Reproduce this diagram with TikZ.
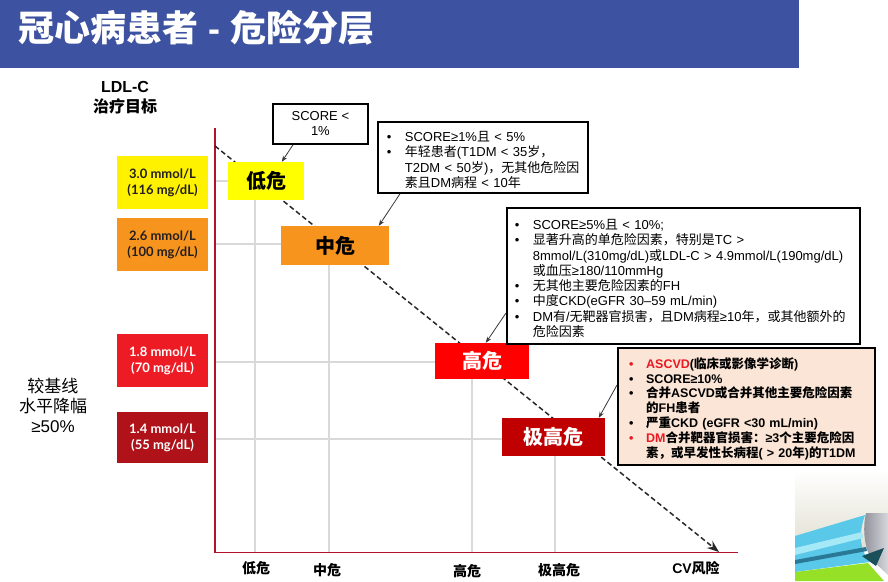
\documentclass[tikz,border=0pt]{standalone}
\usepackage{fontspec}
\setmainfont{Liberation Sans}
\newfontfamily\cjk{Noto Sans CJK SC}
\newfontfamily\gill{Lato}
\usetikzlibrary{arrows.meta,calc}

\XeTeXinterchartokenstate=1
\newXeTeXintercharclass\CJKcls
\newcount\cjkc
\cjkc="4E00 \loop\XeTeXcharclass\cjkc=\CJKcls\relax\ifnum\cjkc<"9FFF\advance\cjkc by 1\repeat
\cjkc="3000 \loop\XeTeXcharclass\cjkc=\CJKcls\relax\ifnum\cjkc<"303F\advance\cjkc by 1\repeat
\cjkc="FF00 \loop\XeTeXcharclass\cjkc=\CJKcls\relax\ifnum\cjkc<"FFEF\advance\cjkc by 1\repeat
\XeTeXinterchartoks 0 \CJKcls = {\begingroup\cjk}
\XeTeXinterchartoks 4095 \CJKcls = {\begingroup\cjk}
\XeTeXinterchartoks \CJKcls 0 = {\endgroup}
\XeTeXinterchartoks \CJKcls 4095 = {\endgroup}

\definecolor{titlebg}{RGB}{61,82,160}
\definecolor{axisred}{RGB}{178,18,42}
\definecolor{gridgray}{RGB}{217,217,217}
\definecolor{ylwA}{RGB}{255,242,0}
\definecolor{ylwB}{RGB}{255,255,0}
\definecolor{org}{RGB}{247,148,30}
\definecolor{redA}{RGB}{237,28,36}
\definecolor{redB}{RGB}{255,0,0}
\definecolor{dredA}{RGB}{175,18,25}
\definecolor{dredB}{RGB}{192,0,0}
\definecolor{peach}{RGB}{251,229,214}
\definecolor{txtdark}{RGB}{35,31,32}
\definecolor{arrgray}{RGB}{55,55,55}
\definecolor{dashgray}{RGB}{40,40,40}
\definecolor{hlred}{RGB}{235,25,35}
\definecolor{decoBeige}{RGB}{226,224,210}
\definecolor{decoCyan}{RGB}{90,200,232}
\definecolor{decoLight}{RGB}{165,232,246}
\definecolor{decoBlue}{RGB}{40,120,150}
\definecolor{decoGrayA}{RGB}{140,140,150}
\definecolor{decoGrayB}{RGB}{215,215,222}
\definecolor{decoDark}{RGB}{25,80,90}
\definecolor{decoGreen}{RGB}{150,225,40}

\newlength\itmw
\newcommand\itm[1][black]{\par\noindent\hangindent=\itmw\hangafter=1\makebox[\itmw][l]{\textcolor{#1}{\textbullet}}}

\begin{document}
\begin{tikzpicture}[x=1pt,y=-1pt,
  lbox/.style={rectangle, inner sep=0pt, minimum width=91pt, align=center,
    font=\gill\bfseries\fontsize{13}{16}\selectfont},
  rbox/.style={rectangle, inner sep=0pt, align=center,
    font=\bfseries\fontsize{20}{24}\selectfont},
  callbox/.style={draw=black, line width=1.8pt, fill=white, rectangle,
    inner sep=0pt, anchor=north west},
  callarrow/.style={draw=arrgray, line width=0.8pt, -{Stealth[length=6pt,width=4.5pt]}},
  gridline/.style={draw=gridgray, line width=1.8pt},
  axisline/.style={draw=axisred, line width=1.8pt},
  dashline/.style={draw=dashgray, line width=1.5pt, dash pattern=on 5pt off 3pt,
    -{Stealth[length=12pt,width=9pt]}},
  xlab/.style={font=\bfseries\fontsize{14}{16}\selectfont, inner sep=0pt},
]
\useasboundingbox (0,0) rectangle (888,581);
\fill[white] (0,0) rectangle (888,581);

% title bar
\fill[titlebg] (0,0) rectangle (799,68);
\node[anchor=west, text=white, font=\bfseries\fontsize{36}{40}\selectfont, inner sep=0pt] (title) at (18,28) {冠心病患者 - 危险分层};

% bottom-right decoration (partial picture)
\shade[top color=white, bottom color=decoBeige] (795,470) rectangle (888,548);
\fill[decoCyan] (795,536) -- (865,515) .. controls (858,535) and (860,550) .. (870,562) -- (795,572) -- cycle;
\fill[decoLight] (795,548) -- (862,532) -- (863,538) -- (795,555) -- cycle;
\fill[decoBlue] (795,560) -- (866,547) -- (867,551) -- (795,564) -- cycle;
\shade[left color=decoGrayA, right color=decoGrayB] (866,513) .. controls (862,530) and (865,550) .. (872,560) -- (888,575) -- (888,513) -- cycle;
\fill[decoDark] (862,556) -- (884,548) -- (876,566) -- cycle;
\fill[decoGreen] (795,572) -- (868,563) -- (884,581) -- (795,581) -- cycle;

% grid (staircase)
\coordinate (g1) at (255,181);
\coordinate (g2) at (329,244);
\coordinate (g3) at (472,362);
\coordinate (g4) at (555,439);
\coordinate (O) at (215,552.5);
\coordinate (ytop) at (215,128);
\coordinate (xend) at (738,552.5);
\draw[gridline] (O |- g1) -| (g1 |- O);
\draw[gridline] (O |- g2) -| (g2 |- O);
\draw[gridline] (O |- g3) -| (g3 |- O);
\draw[gridline] (O |- g4) -| (g4 |- O);

% axes
\draw[axisline] (ytop) -- (O) -- (xend);

% dashed risk line
\coordinate (ds) at (215,146);
\coordinate (de) at (719,552);
\draw[dashline] (ds) -- (de);

% left target boxes
\node[lbox, fill=ylwA, text=txtdark, minimum height=53pt] (L1) at (162.5,182.5) {3.0 mmol/L\\(116 mg/dL)};
\node[lbox, fill=org, text=txtdark, minimum height=53pt] (L2) at (162.5,244.5) {2.6 mmol/L\\(100 mg/dL)};
\node[lbox, fill=redA, text=white, minimum height=53pt] (L3) at (162.5,360.5) {1.8 mmol/L\\(70 mg/dL)};
\node[lbox, fill=dredA, text=white, minimum height=51pt] (L4) at (162.5,437.5) {1.4 mmol/L\\(55 mg/dL)};

% left labels
\node[align=center, font=\bfseries\fontsize{16}{20}\selectfont, inner sep=0pt] (ldl) at (125,98) {LDL-C\\治疗目标};
\node[align=center, font=\fontsize{17}{20}\selectfont, inner sep=0pt] (base) at (53,405) {较基线\\水平降幅\\≥50\%};

% risk boxes
\node[rbox, fill=ylwB, text=black, minimum width=76pt, minimum height=38pt] (R1) at (266,181) {低危};
\node[rbox, fill=org, text=black, minimum width=108pt, minimum height=39pt] (R2) at (335,245.5) {中危};
\node[rbox, fill=redB, text=white, minimum width=94pt, minimum height=36pt] (R3) at (482,361) {高危};
\node[rbox, fill=dredB, text=white, minimum width=103pt, minimum height=38pt] (R4) at (553.5,437) {极高危};

% callouts
\node[callbox, minimum width=95pt, minimum height=40pt, align=center,
  font=\fontsize{13}{15}\selectfont] (C1) at (272,103) {SCORE <\\1\%};

\node[callbox, minimum width=210pt, minimum height=71pt, text width=210pt, align=left,
  font=\fontsize{13}{15.3}\selectfont] (C2) at (377,121) {\leftskip=9pt\setlength\itmw{18pt}%
\itm SCORE≥1\%且 < 5\%
\itm 年轻患者(T1DM < 35岁，\newline T2DM < 50岁)，无其他危险因\newline 素且DM病程 < 10年\par};

\node[callbox, minimum width=353pt, minimum height=136pt, text width=353pt, align=left,
  font=\fontsize{13}{15.3}\selectfont] (C3) at (506,207) {\leftskip=8pt\setlength\itmw{18pt}%
\itm SCORE≥5\%且 < 10\%;
\itm 显著升高的单危险因素，特别是TC >\newline 8mmol/L(310mg/dL)或LDL-C > 4.9mmol/L(190mg/dL)\newline 或血压≥180/110mmHg
\itm 无其他主要危险因素的FH
\itm 中度CKD(eGFR 30–59 mL/min)
\itm DM有/无靶器官损害，且DM病程≥10年，或其他额外的\newline 危险因素\par};

\node[callbox, line width=2.3pt, fill=peach, minimum width=257pt, minimum height=117pt, text width=257pt, align=left,
  font=\bfseries\fontsize{12.5}{14.8}\selectfont] (C4) at (617,347) {\leftskip=11pt\setlength\itmw{17pt}%
\itm[hlred]\textcolor{hlred}{ASCVD}(临床或影像学诊断)
\itm SCORE≥10\%
\itm 合并ASCVD或合并其他主要危险因素\newline 的FH患者
\itm 严重CKD (eGFR <30 mL/min)
\itm[hlred]\textcolor{hlred}{DM}合并靶器官损害：≥3个主要危险因\newline 素，或早发性长病程( > 20年)的T1DM\par};

% callout arrows
\draw[callarrow] ([xshift=21pt]C1.south west) -- ([xshift=54pt]R1.north west);
\draw[callarrow] ([xshift=23pt]C2.south west) -- ([xshift=98pt]R2.north west);
\draw[callarrow] ([yshift=-106pt]C3.north west) -- ([xshift=51pt]R3.north west);
\draw[callarrow] ([yshift=-38pt]C4.north west) -- ([xshift=97pt]R4.north west);

% x axis labels
\node[xlab] (x1) at (256,568) {低危};
\node[xlab] (x2) at (327,570.5) {中危};
\node[xlab] (x3) at (467,571.5) {高危};
\node[xlab] (x4) at (559,570.5) {极高危};
\node[xlab] (x5) at (696,568) {CV风险};
\end{tikzpicture}
\end{document}
